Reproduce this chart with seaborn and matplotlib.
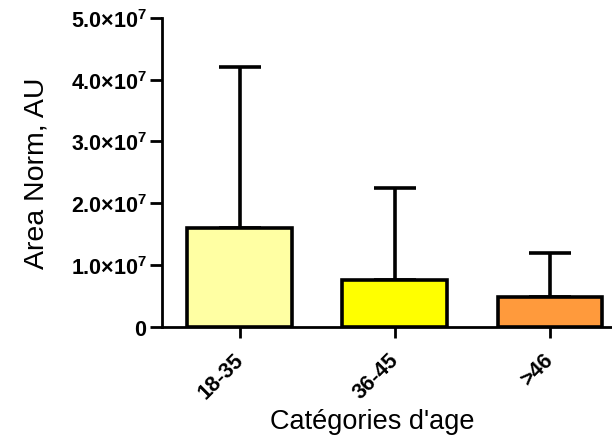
import numpy as np
import pandas as pd
import seaborn as sns
from matplotlib import pyplot as plt
from matplotlib.ticker import FuncFormatter
from matplotlib.transforms import ScaledTranslation

categories = ["18-35", "36-45", ">46"]
means = [1.60e7, 0.76e7, 0.49e7]
sd_upper = [2.61e7, 1.49e7, 0.71e7]
bar_colors = ["#FFFFA3", "#FFFF00", "#FF9A3C"]
y_ticks = [0, 1e7, 2e7, 3e7, 4e7, 5e7]

sns.set_theme(style="ticks")
plt.rcParams["font.family"] = ["Liberation Sans", "DejaVu Sans"]
plt.rcParams["mathtext.fontset"] = "custom"
plt.rcParams["mathtext.rm"] = "Liberation Sans:bold"
plt.rcParams["mathtext.it"] = "Liberation Sans:bold"
plt.rcParams["mathtext.bf"] = "Liberation Sans:bold"
for key in ["text.color", "axes.labelcolor", "xtick.color", "ytick.color", "axes.edgecolor"]:
    plt.rcParams[key] = "black"

data = pd.DataFrame({"cat": categories, "value": means})

fig = plt.figure(figsize=(6.12, 4.39), dpi=100)
ax = fig.add_axes([0.265, 0.253, 0.74, 0.704])

sns.barplot(data=data, x="cat", y="value", hue="cat", palette=bar_colors,
            saturation=1, legend=False, errorbar=None, width=0.675,
            edgecolor="black", linewidth=2.6, ax=ax, zorder=3)

# one-sided (upper) error bars
ax.errorbar(np.arange(len(categories)), means, yerr=[np.zeros(len(means)), sd_upper],
            fmt="none", ecolor="black", elinewidth=2.6, capsize=15, capthick=2.6,
            zorder=2)


def sci_fmt(v, pos):
    if v == 0:
        return r"$0$"
    exp = int(np.floor(np.log10(v)))
    return r"$%.1f{\times}10^{%d}$" % (v / 10 ** exp, exp)


ax.set_ylim(0, 5e7)
ax.set_xlim(-0.5, 2.42)
ax.set_yticks(y_ticks)
ax.yaxis.set_major_formatter(FuncFormatter(sci_fmt))
ax.tick_params(axis="y", labelsize=15.5, width=2, length=9, pad=2)
ax.tick_params(axis="x", labelsize=15.5, width=2, length=8, pad=8)
shift = ScaledTranslation(-7 / 100, 0, fig.dpi_scale_trans)
for lbl in ax.get_xticklabels():
    lbl.set_rotation(45)
    lbl.set_ha("right")
    lbl.set_rotation_mode("anchor")
    lbl.set_fontweight("bold")
    lbl.set_transform(lbl.get_transform() + shift)

for side in ["left", "bottom"]:
    ax.spines[side].set_linewidth(2)
sns.despine(ax=ax)

ax.set_ylabel("Area Norm, AU", fontsize=20.5, labelpad=15)
ax.set_xlabel("Catégories d'age", fontsize=19.5, labelpad=4)
ax.xaxis.label.set_x(0.464)

fig.savefig("out.png", dpi=100)
